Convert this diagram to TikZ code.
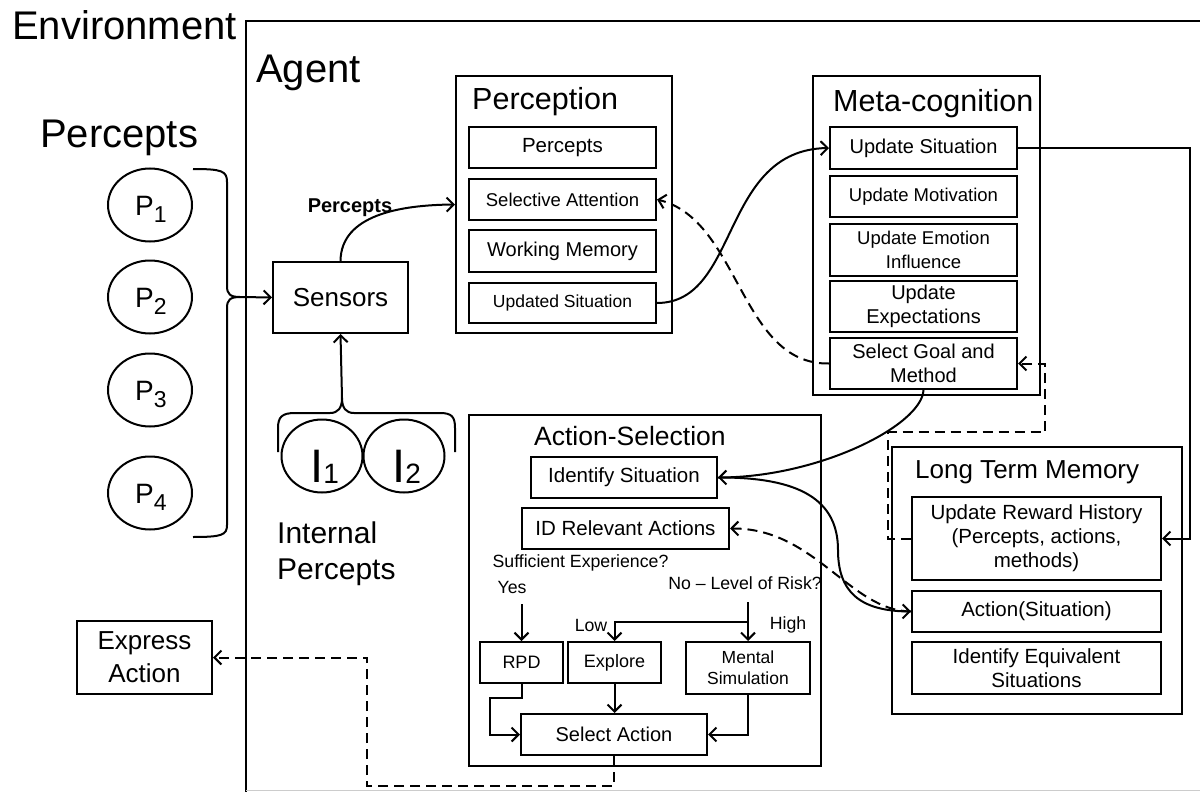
\documentclass[tikz,border=0pt]{standalone}
\usepackage{fontspec}
\setmainfont{Liberation Sans}
\usetikzlibrary{arrows.meta,shapes.geometric}
\newcommand\fsz[2]{\fontsize{#1}{#2}\selectfont}
\newcommand\Pl[1]{\fsz{28}{28}P\raisebox{-7pt}{\fsz{23}{23}#1}}
\newcommand\Il[1]{\fsz{47}{47}I\raisebox{-1pt}{\fsz{28}{28}#1}}
\begin{document}
\begin{tikzpicture}[x=1pt,y=-1pt,
  lw/.style={line width=2pt},
  box/.style={draw, line width=2pt, inner sep=0pt, align=center, font=\fsz{20}{24}},
  frame/.style={draw, line width=2pt, inner sep=0pt},
  circ/.style={draw, ellipse, line width=2pt, inner sep=0pt, minimum width=84pt, minimum height=73pt},
  ttl/.style={anchor=base west, inner sep=0pt},
  sub/.style={anchor=base west, inner sep=0pt},
  lbl/.style={inner sep=0pt, font=\fsz{17.7}{21}},
  arr/.style={lw, -{Straight Barb[length=7pt,width=14pt]}},
  dl/.style={lw, dash pattern=on 10pt off 6pt},
  darr/.style={arr, dash pattern=on 10pt off 6pt}]
\useasboundingbox (0,0) rectangle (1200,792);

% Agent frame
\draw[line width=2.5pt] (246,792) -- (246,21) -- (1200,21);
\draw[gray!40, line width=1pt] (246,790) -- (1200,790);

\node[ttl, font=\fsz{40}{48}] (env) at (12,40) {Environment};
\node[ttl, font=\fsz{40}{48}] (agentlbl) at (256,82) {Agent};
\node[ttl, font=\fsz{40}{48}] (perclbl) at (40,147) {Percepts};

% external percepts
\node[circ] (p1) at (150,205) {};
\node[circ] (p2) at (150,297) {};
\node[circ] (p3) at (150,390) {};
\node[circ] (p4) at (150,493) {};
\node[sub] (p1t) at (135,215) {\Pl{1}};
\node[sub] (p2t) at (135,307) {\Pl{2}};
\node[sub] (p3t) at (135,400) {\Pl{3}};
\node[sub] (p4t) at (135,503) {\Pl{4}};
\coordinate (pbt) at (240,297);
\draw[lw] (193,169) .. controls (222,169) and (227,171) .. (227,182) -- (227,286)
  .. controls (227,294) and (230,297) .. (pbt)
  .. controls (230,297) and (227,300) .. (227,308) -- (227,525)
  .. controls (227,535) and (222,537) .. (193,537);

% sensors
\node[box, font=\fsz{26}{30}, minimum width=135pt, minimum height=71pt] (sensors) at (340.5,297.5) {Sensors};
\draw[arr] (pbt) -- (sensors.west);

% internal percepts
\node[circ, minimum width=81pt] (i1) at (322,456) {};
\node[circ, minimum width=81pt] (i2) at (404,456) {};
\node[sub] (i1t) at (310,482) {\Il{1}};
\node[sub] (i2t) at (392,482) {\Il{2}};
\coordinate (ibt) at (342,398);
\draw[lw] (278,452) -- (278,428) .. controls (278,417) and (282,413) .. (295,413) -- (330,413)
  .. controls (338,413) and (342,408) .. (ibt)
  .. controls (342,408) and (346,413) .. (354,413) -- (440,413)
  .. controls (452,413) and (455,417) .. (455,428) -- (455,452);
\draw[arr] (ibt) -- (sensors.south);
\node[anchor=north west, align=left, inner sep=0pt, font=\fsz{30}{36}] (intlbl) at (277,522) {Internal\\Percepts};

% Perception
\node[frame, minimum width=216pt, minimum height=257pt] (percbox) at (564,204.5) {};
\node[ttl, font=\fsz{30.5}{36}] (perctitle) at (472,110) {Perception};
\node[box, font=\fsz{20.5}{24}, minimum width=187pt, minimum height=41pt] (pcp) at (562.5,147.5) {Percepts};
\node[box, font=\fsz{18.5}{22}, minimum width=187pt, minimum height=41pt] (pcs) at (562.5,199.5) {Selective Attention};
\node[box, minimum width=187pt, minimum height=42pt] (pcw) at (562.5,251) {Working Memory};
\node[box, font=\fsz{17.5}{21}, minimum width=187pt, minimum height=40pt] (pcu) at (562.5,303) {Updated Situation};

\draw[arr] (sensors.north) .. controls (341,215) and (400,205) .. (percbox.west);
\node[font=\fsz{20}{24}\bfseries, inner sep=0pt] (plbl) at (350,208) {Percepts};

% Meta-cognition
\node[frame, minimum width=227pt, minimum height=319pt] (metabox) at (926.5,235.5) {};
\node[ttl, font=\fsz{30.5}{36}] (metatitle) at (833,111) {Meta-cognition};
\node[box, minimum width=187pt, minimum height=42pt] (mus) at (923.5,148) {Update Situation};
\node[box, font=\fsz{18.5}{22}, minimum width=187pt, minimum height=41pt] (mum) at (923.5,196.5) {Update Motivation};
\node[box, font=\fsz{18.5}{24}, minimum width=187pt, minimum height=52pt] (mue) at (923.5,250) {Update Emotion\\Influence};
\node[box, minimum width=187pt, minimum height=51pt] (mux) at (923.5,306.5) {Update\\Expectations};
\node[box, minimum width=187pt, minimum height=51pt] (msg) at (923.5,363.5) {Select Goal and\\Method};

% Long term memory
\node[frame, minimum width=290pt, minimum height=267pt] (ltmbox) at (1037,580.5) {};
\node[ttl, font=\fsz{26}{30}] (ltmtitle) at (915,478) {Long Term Memory};
\node[box, font=\fsz{20.5}{24}, minimum width=249pt, minimum height=83pt] (lrw) at (1036.5,538.5) {Update Reward History\\(Percepts, actions,\\methods)};
\node[box, font=\fsz{20.5}{24}, minimum width=249pt, minimum height=41pt] (las) at (1036.5,611.5) {Action(Situation)};
\node[box, font=\fsz{20.5}{24}, minimum width=249pt, minimum height=52pt] (lie) at (1036.5,668) {Identify Equivalent\\Situations};

% Action selection
\node[frame, minimum width=352pt, minimum height=351pt] (asbox) at (645,590.5) {};
\node[ttl, font=\fsz{26.5}{30}] (astitle) at (534,445) {Action-Selection};
\node[box, font=\fsz{20.5}{24}, minimum width=186pt, minimum height=41pt] (aid) at (624,477.5) {Identify Situation};
\node[box, font=\fsz{20.5}{24}, minimum width=207pt, minimum height=41pt] (arel) at (625.5,528.5) {ID Relevant Actions};
\node[lbl] (suff) at (580.5,563) {Sufficient Experience?};
\node[lbl] (yes) at (512,587) {Yes};
\node[lbl] (risk) at (745,583) {No – Level of Risk?};
\node[box, font=\fsz{18}{21}, minimum width=83pt, minimum height=41pt] (rpd) at (521.5,662.5) {RPD};
\node[box, font=\fsz{18}{21}, minimum width=93pt, minimum height=41pt] (expl) at (614.5,662.5) {Explore};
\node[box, font=\fsz{17.5}{21}, minimum width=124pt, minimum height=52pt] (ms) at (748,668) {Mental\\Simulation};
\node[box, minimum width=186pt, minimum height=41pt] (sel) at (614,734.5) {Select Action};
\node[lbl] (low) at (591,625) {Low};
\node[lbl] (high) at (788,625) {High};

\coordinate (yesst) at (521.5,604);
\draw[arr] (yesst) -- (rpd.north);
\coordinate (riskst) at (748,602);
\coordinate (riskj) at (748,622);
\draw[arr] (riskst) -- (ms.north);
\draw[arr] (riskj) -| (expl.north);
\coordinate (rp1) at (490,698);
\draw[arr] (rpd.south) |- (rp1) |- (sel.west);
\draw[arr] (expl.south) -- (expl.south |- sel.north);
\draw[arr] (ms.south) |- (sel.east);

% Express action
\node[box, font=\fsz{26}{33}, minimum width=135pt, minimum height=73pt] (expr) at (144.5,657.5) {Express\\Action};
\coordinate (ex1) at (367,786);
\draw[darr] (sel.south) |- (ex1) |- (expr.east);

% connectors between modules
\draw[arr] (pcu.east) .. controls (740,303) and (720,150) .. (mus.west);
\draw[darr] (msg.west) .. controls (740,365) and (740,220) .. (pcs.east);
\draw[arr] (msg.south) .. controls (922,425) and (820,477) .. (aid.east);
\draw[arr] (aid.east) .. controls (800,477) and (838,500) .. (838,550)
  .. controls (838,592) and (860,611) .. (las.west);
\draw[darr] (las.west) .. controls (850,611) and (815,528) .. (arel.east);
\coordinate (us1) at (1190,148);
\draw[arr] (mus.east) -- (us1) |- (lrw.east);
\coordinate (rw1) at (888,432);
\coordinate (rw2) at (1045,432);
\draw[darr] (lrw.west) -| (rw1) -- (rw2) |- (msg.east);
\end{tikzpicture}
\end{document}
